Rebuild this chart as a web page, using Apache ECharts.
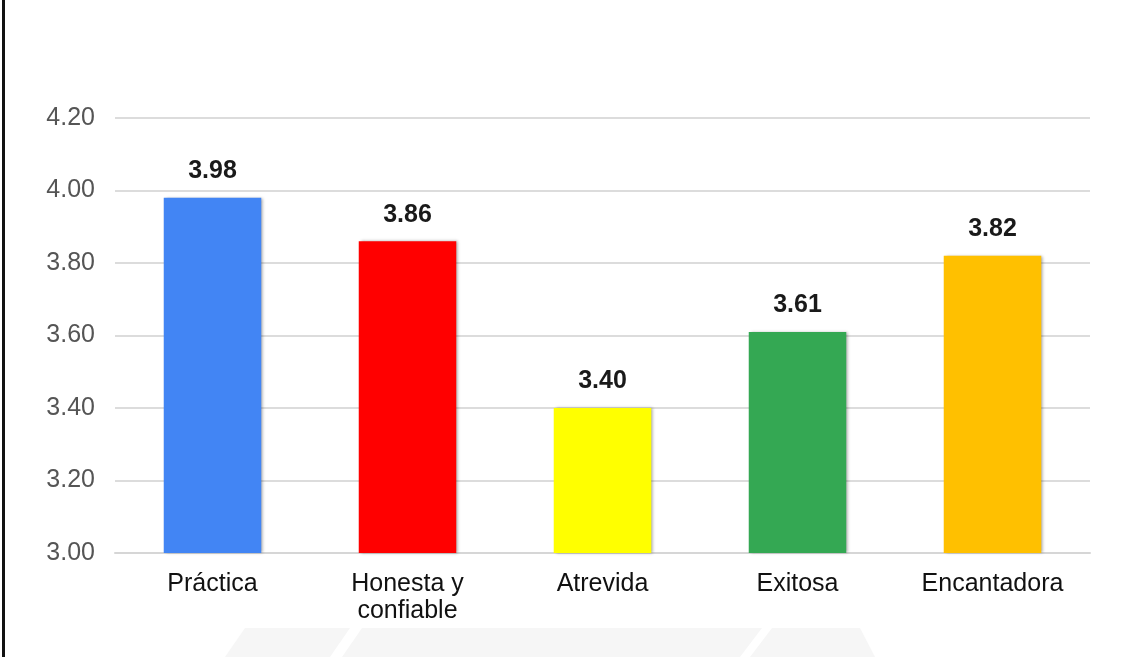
<!DOCTYPE html>
<html>
<head>
<meta charset="utf-8">
<script src="https://cdn.jsdelivr.net/npm/echarts@6/dist/echarts.min.js"></script>
<style>
html,body{margin:0;padding:0;background:#fff;}
#c{width:1129px;height:657px;}
</style>
</head>
<body>
<div id="c"></div>
<script>
const categories = ['Práctica', 'Honesta y\nconfiable', 'Atrevida', 'Exitosa', 'Encantadora'];
const values = [3.98, 3.86, 3.40, 3.61, 3.82];
const barColors = ['#4285F4', '#FF0000', '#FFFF00', '#34A853', '#FFC000'];
const yMin = 3.0, yMax = 4.2, yStep = 0.2;

const chart = echarts.init(document.getElementById('c'));
const FONT = '"Liberation Sans", Arial, sans-serif';

chart.setOption({
  animation: false,
  backgroundColor: '#ffffff',
  grid: { left: 115, right: 39, top: 118, bottom: 104, containLabel: false },
  xAxis: {
    type: 'category',
    data: categories,
    axisLine: { show: true, lineStyle: { color: '#d6d6d6', width: 2 } },
    axisTick: { show: false },
    axisLabel: {
      color: '#111', fontSize: 25, fontFamily: FONT, margin: 18, lineHeight: 27, interval: 0
    }
  },
  yAxis: {
    type: 'value',
    min: yMin, max: yMax, interval: yStep,
    axisLine: { show: false },
    axisTick: { show: false },
    splitLine: { lineStyle: { color: '#dcdcdc', width: 2 } },
    axisLabel: {
      color: '#555', fontSize: 25, fontFamily: FONT, margin: 20,
      formatter: v => v.toFixed(2)
    }
  },
  series: [{
    type: 'bar',
    barWidth: '50%',
    data: values.map((v, i) => ({
      value: v,
      itemStyle: {
        color: barColors[i],
        shadowColor: 'rgba(0,0,0,0.35)', shadowBlur: 3, shadowOffsetX: 2, shadowOffsetY: 0
      }
    })),
    label: {
      show: true, position: 'top', distance: 14,
      color: '#1a1a1a', fontSize: 25, fontWeight: 'bold', fontFamily: FONT,
      formatter: p => p.value.toFixed(2)
    }
  }],
  graphic: [
    { type: 'rect', left: 2, top: 0, shape: { width: 3, height: 657 }, style: { fill: '#111' }, z: 100 },
    { type: 'polygon', shape: { points: [[225,657],[245,628],[860,628],[875,657]] }, style: { fill: '#f6f6f6' }, z: -10 },
    { type: 'polygon', shape: { points: [[330,657],[350,628],[362,628],[342,657]] }, style: { fill: '#ffffff' }, z: -9 },
    { type: 'polygon', shape: { points: [[740,657],[762,628],[772,628],[750,657]] }, style: { fill: '#ffffff' }, z: -9 }
  ]
});
</script>
</body>
</html>
